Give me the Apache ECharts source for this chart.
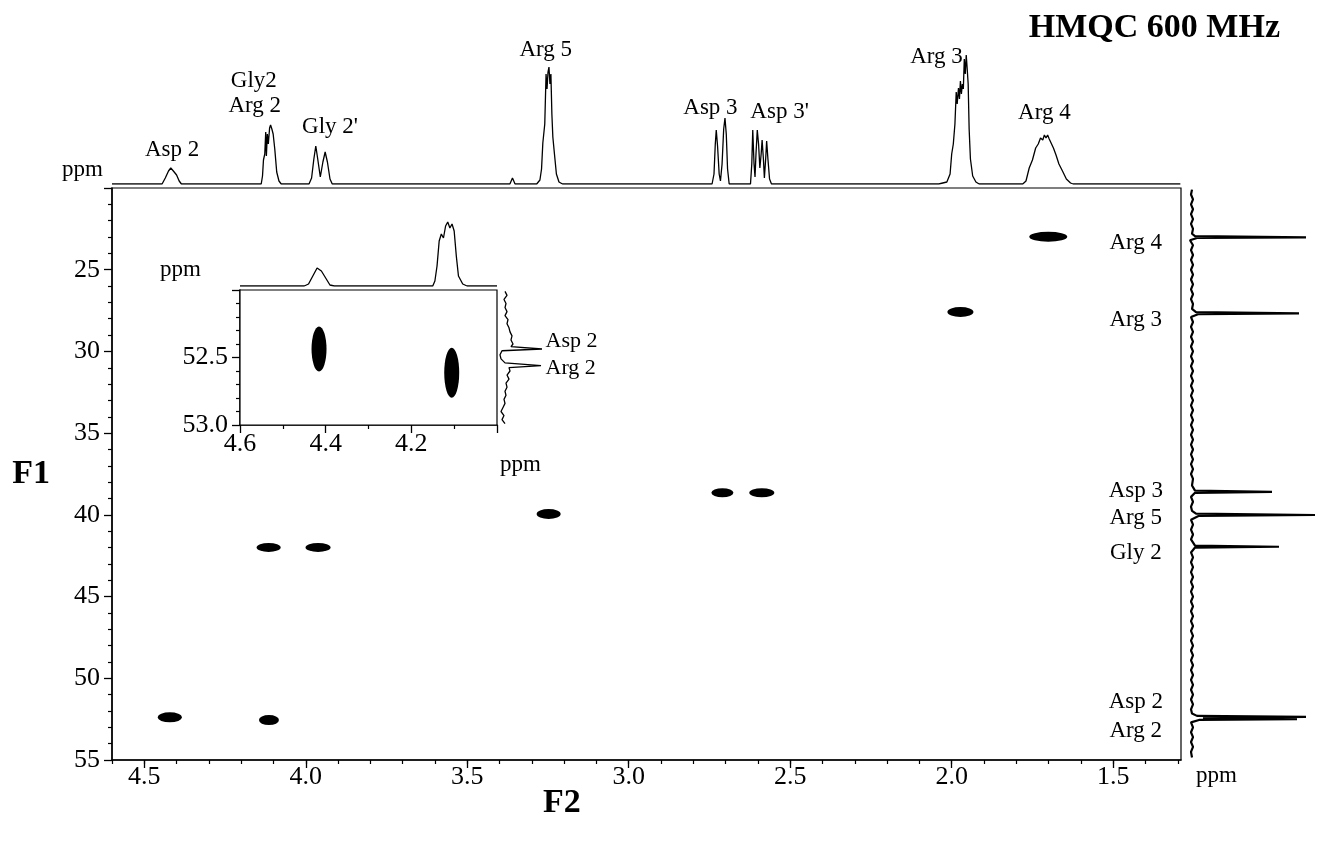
<!DOCTYPE html>
<html><head><meta charset="utf-8">
<script src="https://cdn.jsdelivr.net/npm/echarts@6/dist/echarts.min.js"></script>
<style>html,body{margin:0;padding:0;background:#fff}#c{width:1329px;height:847px}</style>
</head><body><div id="c"></div>
<script>
// ---------- DATA ----------
const F2_MAJOR = [4.5, 4.0, 3.5, 3.0, 2.5, 2.0, 1.5];
const F2_MINOR = [4.6,4.5,4.4,4.3,4.2,4.1,4.0,3.9,3.8,3.7,3.6,3.5,3.4,3.3,3.2,3.1,3.0,2.9,2.8,2.7,2.6,2.5,2.4,2.3,2.2,2.1,2.0,1.9,1.8,1.7,1.6,1.5,1.4,1.3];

// 2D cross peaks [F2 ppm, F1 ppm]
const crossPeaks = [
  {name:'Asp 2',  value:[4.421, 52.39]},
  {name:'Arg 2',  value:[4.114, 52.56]},
  {name:'Gly 2',  value:[4.115, 41.99]},
  {name:"Gly 2'", value:[3.962, 41.99]},
  {name:'Arg 5',  value:[3.248, 39.95]},
  {name:'Asp 3',  value:[2.710, 38.65]},
  {name:"Asp 3'", value:[2.588, 38.65]},
  {name:'Arg 3',  value:[1.973, 27.59]},
  {name:'Arg 4',  value:[1.701, 22.98]}
];

// 1D 1H projection (F2 ppm, intensity)
const topSpectrum = [
[4.600,0],
[4.445,0],[4.435,6],[4.425,13],[4.418,16],[4.410,13],[4.400,9],[4.392,3],[4.385,0],
[4.138,0],[4.134,8],[4.131,24],[4.127,30],[4.124,52],[4.122,28],[4.119,50],[4.116,40],[4.112,56],[4.109,59],[4.105,55],[4.101,50],[4.096,35],[4.090,12],[4.083,3],[4.076,0],
[3.990,0],[3.982,6],[3.975,25],[3.969,38],[3.963,25],[3.955,7],[3.947,22],[3.940,32],[3.933,22],[3.925,5],[3.918,0],
[3.368,0],[3.360,6],[3.352,0],
[3.285,0],[3.275,4],[3.270,15],[3.266,41],[3.260,60],[3.256,110],[3.253,95],[3.250,112],[3.247,117],[3.244,100],[3.241,110],[3.238,70],[3.235,47],[3.230,30],[3.224,10],[3.216,2],[3.205,0],
[2.742,0],[2.736,10],[2.732,40],[2.729,54],[2.725,38],[2.720,10],[2.716,3],[2.711,20],[2.706,55],[2.702,66],[2.698,50],[2.694,15],[2.689,0],
[2.623,0],[2.619,20],[2.616,54],[2.612,20],[2.609,7],[2.606,30],[2.602,54],[2.598,40],[2.594,16],[2.590,30],[2.587,44],[2.583,25],[2.580,6],[2.576,25],[2.573,43],[2.569,25],[2.564,5],[2.558,0],
[2.040,0],[2.015,2],[2.005,10],[2.000,30],[1.995,40],[1.990,60],[1.986,92],[1.983,80],[1.979,96],[1.976,85],[1.973,103],[1.970,90],[1.967,100],[1.964,95],[1.961,125],[1.958,110],[1.955,129],[1.952,115],[1.949,100],[1.946,55],[1.942,25],[1.935,8],[1.925,2],[1.915,0],
[1.780,0],[1.770,3],[1.760,16],[1.750,24],[1.740,36],[1.732,40],[1.725,46],[1.718,44],[1.713,49],[1.708,46],[1.703,49],[1.698,45],[1.692,44],[1.685,36],[1.677,29],[1.668,20],[1.657,13],[1.645,5],[1.632,1],[1.624,0],
[1.292,0]
];
const topLabels = [
  {name:'Asp 2',  value:[4.414, 34]},
  {name:'Gly2',   value:[4.161, 103]},
  {name:'Arg 2',  value:[4.158, 78]},
  {name:"Gly 2'", value:[3.925, 57]},
  {name:'Arg 5',  value:[3.257, 134]},
  {name:'Asp 3',  value:[2.747, 76]},
  {name:"Asp 3'", value:[2.533, 72]},
  {name:'Arg 3',  value:[2.047, 127]},
  {name:'Arg 4',  value:[1.713, 71]}
];

// 1D 13C projection (intensity, F1 ppm)
const rightSpectrum = [
[9,20.1],[8,20.4],[10,20.7],[8,21.0],[10,21.3],[8,21.6],[10,21.9],[8,22.2],[10,22.5],[9,22.8],[12,22.95],[123,23.02],[14,23.06],[7,23.2],[10,23.5],[8,23.8],[10,24.1],[8,24.4],[10,24.7],[8,25.0],[10,25.3],[8,25.6],[10,25.9],[8,26.2],[10,26.5],[8,26.8],[10,27.1],[9,27.4],[13,27.6],[116,27.67],[15,27.72],[8,27.9],[10,28.2],[8,28.5],[10,28.8],[8,29.1],[10,29.4],[8,29.7],[10,30.0],[8,30.3],[10,30.6],[8,30.9],[10,31.2],[8,31.5],[10,31.8],[8,32.1],[10,32.4],[8,32.7],[10,33.0],[8,33.3],[10,33.6],[8,33.9],[10,34.2],[8,34.5],[10,34.8],[8,35.1],[10,35.4],[8,35.7],[10,36.0],[8,36.3],[10,36.6],[8,36.9],[10,37.2],[8,37.5],[10,37.8],[9,38.2],[12,38.52],[89,38.59],[12,38.65],[8,38.9],[10,39.2],[8,39.5],[9,39.75],[13,39.93],[132,40.01],[16,40.06],[8,40.3],[10,40.6],[8,40.9],[10,41.2],[8,41.5],[12,41.88],[96,41.95],[12,42.0],[8,42.3],[10,42.6],[8,42.9],[10,43.2],[8,43.5],[10,43.8],[8,44.1],[10,44.4],[8,44.7],[10,45.0],[8,45.3],[10,45.6],[8,45.9],[10,46.2],[8,46.5],[10,46.8],[8,47.1],[10,47.4],[8,47.7],[10,48.0],[8,48.3],[10,48.6],[8,48.9],[10,49.2],[8,49.5],[10,49.8],[8,50.1],[10,50.4],[8,50.7],[10,51.0],[8,51.3],[10,51.6],[8,51.9],[9,52.15],[14,52.3],[123,52.36],[20,52.42],[114,52.5],[16,52.55],[8,52.7],[10,53.0],[8,53.3],[10,53.6],[8,53.9],[10,54.2],[8,54.5],[9,54.85]
];
const rightLabels = [
  {name:'Arg 4', value:[1.430, 23.37]},
  {name:'Arg 3', value:[1.430, 28.08]},
  {name:'Asp 3', value:[1.430, 38.54]},
  {name:'Arg 5', value:[1.430, 40.20]},
  {name:'Gly 2', value:[1.430, 42.34]},
  {name:'Asp 2', value:[1.430, 51.46]},
  {name:'Arg 2', value:[1.430, 53.23]}
];

// inset
const insetPeaks = [
  {name:'Asp 2', value:[4.4155, 52.437]},
  {name:'Arg 2', value:[4.1057, 52.613]}
];
const insetTop = [
[4.600,0],[4.450,0],[4.440,2],[4.430,10],[4.420,18],[4.410,15],[4.400,8],[4.390,1],[4.380,0],
[4.150,0],[4.145,5],[4.140,20],[4.135,45],[4.130,52],[4.125,48],[4.120,60],[4.115,64],[4.110,58],[4.105,62],[4.100,55],[4.095,30],[4.090,10],[4.080,2],[4.070,0],[4.000,0]
];
const insetRight = [
[8,52.01],[10,52.04],[7,52.07],[9,52.10],[8,52.13],[10,52.16],[8,52.19],[11,52.22],[10,52.25],[12,52.28],[13,52.31],[15,52.34],[14,52.37],[16,52.40],[14,52.42],[45,52.437],[5,52.45],[3,52.48],[4,52.51],[8,52.54],[44,52.56],[12,52.575],[13,52.60],[10,52.63],[12,52.66],[9,52.69],[10,52.72],[8,52.75],[9,52.78],[7,52.81],[8,52.84],[6,52.87],[4,52.90],[7,52.93],[5,52.96],[8,52.99]
];
const insetLabels = [
  {name:'Asp 2', value:[48, 52.378]},
  {name:'Arg 2', value:[48, 52.578]}
];

// ---------- STYLE ----------
const FONT = '"Liberation Serif", "Times New Roman", serif';
const PEAK_SIZE = {'Asp 2':[24,10],'Arg 2':[20,10],'Gly 2':[24,9],"Gly 2'":[25,9],'Arg 5':[24,10],'Asp 3':[22,9],"Asp 3'":[25,9],'Arg 3':[26,10],'Arg 4':[38,10]};
const INSET_SIZE = {'Asp 2':[15,45],'Arg 2':[15,50]};
const txt = (sz, bold) => ({color:'#000', fontFamily:FONT, fontSize:sz, fontWeight: bold ? 'bold' : 'normal'});
const labelSeries = (data, xi, yi, sz, pos) => ({
  type:'scatter', xAxisIndex:xi, yAxisIndex:yi, data, symbolSize:1, itemStyle:{color:'rgba(0,0,0,0)', opacity:1}, silent:true,
  label:{show:true, position:pos || 'inside', distance:0, formatter:p=>p.name, ...txt(sz)}, z:10
});
const G = {outerBoundsMode:'none', containLabel:false};
const MAJ = {color:'#000', width:1.3};
const MIN = {color:'#000', width:1.2};

const chart = echarts.init(document.getElementById('c'), null, {renderer:'canvas'});
chart.setOption({
  backgroundColor:'#fff',
  animation:false,
  title:{text:'HMQC 600 MHz', right:44, top:6, textStyle:txt(34,true)},
  grid:[
    {...G, left:112, top:188, width:1069, height:572, show:true, borderColor:'#000', borderWidth:1.2},   // 0 main
    {...G, left:112, top:34, width:1069, height:150},                                                     // 1 top 1D
    {...G, left:1183, top:188, width:140, height:572},                                                    // 2 right 1D
    {...G, left:240, top:290, width:257, height:135, show:true, borderColor:'#000', borderWidth:1.2, backgroundColor:'#fff', z:5}, // 3 inset
    {...G, left:240, top:215, width:257, height:71},                                                      // 4 inset top
    {...G, left:497, top:290, width:100, height:135}                                                      // 5 inset right
  ],
  xAxis:[
    {gridIndex:0, type:'value', min:1.29, max:4.6, inverse:true, position:'bottom',
      axisLine:{lineStyle:{color:'#000', width:1.5}}, splitLine:{show:false},
      axisTick:{customValues:F2_MAJOR, length:8, lineStyle:MAJ},
      axisLabel:{customValues:F2_MAJOR, formatter:v=>v.toFixed(1), margin:4, ...txt(26)}},
    {gridIndex:0, type:'value', min:1.29, max:4.6, inverse:true, position:'bottom', offset:0,
      axisLine:{show:false}, splitLine:{show:false},
      axisTick:{customValues:F2_MINOR, length:4, lineStyle:MIN},
      axisLabel:{show:false}},
    {gridIndex:1, type:'value', min:1.29, max:4.6, inverse:true, show:false},
    {gridIndex:2, type:'value', min:0, max:140, show:false},
    {gridIndex:3, type:'value', min:4.0, max:4.6, interval:0.2, inverse:true,
      axisLine:{lineStyle:{color:'#000', width:1.5}}, splitLine:{show:false},
      axisTick:{length:8, lineStyle:MAJ},
      minorTick:{show:true, splitNumber:2, length:4, lineStyle:MIN},
      axisLabel:{formatter:v=> Math.abs(v-4.0)<1e-6 ? '' : v.toFixed(1), margin:6, ...txt(26)}},
    {gridIndex:4, type:'value', min:4.0, max:4.6, inverse:true, show:false},
    {gridIndex:5, type:'value', min:0, max:100, show:false}
  ],
  yAxis:[
    {gridIndex:0, type:'value', min:20, max:55, interval:5, inverse:true,
      name:'F1', nameLocation:'middle', nameRotate:0, nameGap:62,
      nameTextStyle:{...txt(34,true), padding:[16,0,0,0]},
      axisLine:{show:true, lineStyle:{color:'#000', width:1.5}}, splitLine:{show:false},
      axisTick:{show:true, length:8, lineStyle:MAJ},
      minorTick:{show:true, splitNumber:5, length:4, lineStyle:MIN},
      axisLabel:{showMinLabel:false, margin:12, ...txt(26)}},
    {gridIndex:1, type:'value', min:0, max:150, show:false},
    {gridIndex:2, type:'value', min:20, max:55, inverse:true, show:false},
    {gridIndex:3, type:'value', min:52.0, max:53.0, interval:0.5, inverse:true,
      axisLine:{show:true, lineStyle:{color:'#000', width:1.5}}, splitLine:{show:false},
      axisTick:{show:true, length:8, lineStyle:MAJ},
      minorTick:{show:true, splitNumber:5, length:4, lineStyle:MIN},
      axisLabel:{formatter:v=> Math.abs(v-52.0)<1e-6 ? '' : v.toFixed(1), margin:12, ...txt(26)}},
    {gridIndex:4, type:'value', min:0, max:71, show:false},
    {gridIndex:5, type:'value', min:52.0, max:53.0, inverse:true, show:false}
  ],
  series:[
    {type:'scatter', xAxisIndex:0, yAxisIndex:0, data:crossPeaks, symbol:'circle',
      symbolSize:(v,p)=>PEAK_SIZE[p.name], itemStyle:{color:'#000', opacity:1}},
    {type:'line', xAxisIndex:2, yAxisIndex:1, data:topSpectrum, showSymbol:false,
      lineStyle:{color:'#000', width:1.3}},
    labelSeries(topLabels, 2, 1, 23),
    {type:'line', xAxisIndex:3, yAxisIndex:2, data:rightSpectrum, showSymbol:false,
      lineStyle:{color:'#000', width:2.2}},
    labelSeries(rightLabels, 0, 0, 23),
    {type:'scatter', xAxisIndex:4, yAxisIndex:3, data:insetPeaks, symbol:'circle',
      symbolSize:(v,p)=>INSET_SIZE[p.name], itemStyle:{color:'#000', opacity:1}, z:6},
    {type:'line', xAxisIndex:5, yAxisIndex:4, data:insetTop, showSymbol:false,
      lineStyle:{color:'#000', width:1.3}},
    {type:'line', xAxisIndex:6, yAxisIndex:5, data:insetRight, showSymbol:false,
      lineStyle:{color:'#000', width:1.3}},
    labelSeries(insetLabels, 6, 5, 22, 'right')
  ],
  graphic:[
    {type:'text', left:62, top:158, style:{text:'ppm', fill:'#000', font:'23px ' + FONT}},
    {type:'text', left:160, top:258, style:{text:'ppm', fill:'#000', font:'23px ' + FONT}},
    {type:'text', left:500, top:453, style:{text:'ppm', fill:'#000', font:'23px ' + FONT}},
    {type:'text', left:1196, top:764, style:{text:'ppm', fill:'#000', font:'23px ' + FONT}},
    {type:'text', left:543, top:786, style:{text:'F2', fill:'#000', font:'bold 34px ' + FONT}}
  ]
});
</script></body></html>
